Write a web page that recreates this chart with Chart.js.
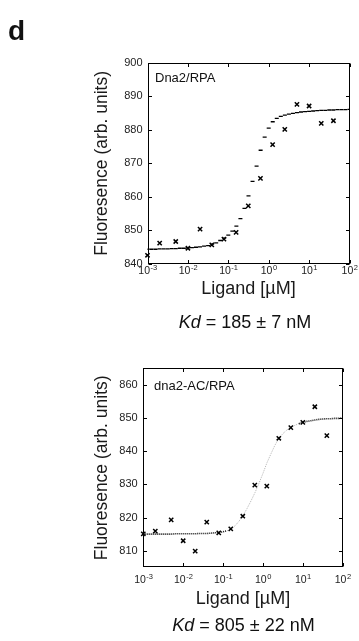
<!DOCTYPE html>
<html>
<head>
<meta charset="utf-8">
<script src="https://cdn.jsdelivr.net/npm/chart.js@4.4.1/dist/chart.umd.min.js"></script>
<style>
  html, body { margin: 0; padding: 0; background: #fff; }
  body { width: 359px; height: 641px; position: relative; overflow: hidden; font-family: "Liberation Sans", Arial, sans-serif; }
  canvas { position: absolute; left: 0; }
  #c1 { top: 0; }
  #c2 { top: 340px; }
  .txt { position: absolute; line-height: 1; white-space: nowrap; color: #111; }
  .panel { left: 8px; top: 17px; font-size: 28px; font-weight: bold; }
  .kd { font-size: 18px; transform: translateX(-50%); }
  .inset { font-size: 13px; }
</style>
</head>
<body>
<canvas id="c1" width="359" height="320"></canvas>
<canvas id="c2" width="359" height="301"></canvas>
<div class="txt panel">d</div>
<div class="txt inset" style="left:155px; top:70.5px">Dna2/RPA</div>
<div class="txt inset" style="left:154px; top:379px">dna2-AC/RPA</div>
<div class="txt kd" style="left:245px; top:312.8px"><i>Kd</i> = 185 ± 7 nM</div>
<div class="txt kd" style="left:243.5px; top:615.8px"><i>Kd</i> = 805 ± 22 nM</div>

<script>
// Ligand concentrations (µM), same dilution series for both panels
const concUM = [0.001, 0.002, 0.005, 0.01, 0.02, 0.039, 0.078, 0.156, 0.3125, 0.625, 1.25, 2.5, 5, 10, 20, 40];

// Measured fluorescence (x markers)
const fluorDna2 = [842.6, 846.2, 846.7, 844.7, 850.4, 845.7, 847.4, 849.4, 857.3, 865.5, 875.6, 880.1, 887.6, 887.1, 881.9, 882.7];
const fluorDna2AC = [815.1, 815.9, 819.3, 813.0, 809.9, 818.6, 815.4, 816.6, 820.4, 829.8, 829.5, 843.9, 847.1, 848.7, 853.4, 844.7];

// Fitted curves at these log10(µM) positions
const fitLog = [-3.0, -2.9, -2.8, -2.7, -2.6, -2.5, -2.4, -2.3, -2.2, -2.1,
                -2.0, -1.9, -1.8, -1.7, -1.6, -1.5, -1.4, -1.3, -1.2, -1.1,
                -1.0, -0.9, -0.8, -0.7, -0.6, -0.5, -0.4, -0.3, -0.2, -0.1,
                 0.0,  0.1,  0.2,  0.3,  0.4,  0.5,  0.6,  0.7,  0.8,  0.9,
                 1.0,  1.1,  1.2,  1.3,  1.4,  1.5,  1.6,  1.7,  1.8,  1.9, 2.0];
const fitDna2 = [844.4, 844.4, 844.4, 844.5, 844.5, 844.5, 844.6, 844.6, 844.7, 844.7,
                 844.8, 844.9, 845.0, 845.1, 845.3, 845.5, 845.9, 846.3, 847.0, 847.7,
                 848.6, 849.8, 851.3, 853.5, 856.6, 860.3, 864.6, 869.2, 873.9, 877.8,
                 880.5, 882.4, 883.4, 884.0, 884.4, 884.7, 884.9, 885.1, 885.3, 885.4,
                 885.5, 885.6, 885.7, 885.8, 885.8, 885.9, 885.9, 886.0, 886.0, 886.0, 886.1];
const fitDna2AC = [815.0, 815.0, 815.0, 815.0, 815.0, 815.0, 815.0, 815.0, 815.1, 815.1,
                   815.1, 815.1, 815.1, 815.1, 815.2, 815.2, 815.2, 815.3, 815.4, 815.5,
                   815.7, 816.0, 816.6, 817.5, 818.9, 820.6, 822.7, 825.0, 827.5, 830.3,
                   833.3, 836.5, 839.2, 841.8, 843.9, 845.3, 846.4, 847.2, 847.8, 848.3,
                   848.7, 849.0, 849.2, 849.4, 849.6, 849.7, 849.8, 849.8, 849.9, 849.9, 850.0];

// Axis ticks
const xTickValues = [0.001, 0.01, 0.1, 1, 10, 100];
const xTickExponents = ['-3', '-2', '-1', '0', '1', '2'];
const yTicksDna2 = [840, 850, 860, 870, 880, 890, 900];
const yTicksDna2AC = [810, 820, 830, 840, 850, 860];

Chart.defaults.font.family = '"Liberation Sans", Arial, sans-serif';
Chart.defaults.color = '#222';

const TICK = 3.5;

// plot frame, inward ticks on all four sides, 10^n labels under the x axis
const frameAndTicks = {
    id: 'frameAndTicks',
    afterDraw(chart, args, opts) {
        const { ctx, chartArea: a, scales: { x, y } } = chart;
        const L = Math.round(a.left) + 0.5, R = Math.round(a.right) - 0.5;
        const T = Math.round(a.top) + 0.5, B = Math.round(a.bottom) - 0.5;
        ctx.save();
        ctx.strokeStyle = '#000';
        ctx.lineWidth = 1;
        ctx.beginPath();
        xTickValues.forEach(v => {
            const px = Math.round(x.getPixelForValue(v)) + 0.5;
            ctx.moveTo(px, B); ctx.lineTo(px, B - TICK);
            ctx.moveTo(px, T); ctx.lineTo(px, T + TICK);
        });
        y.ticks.forEach(t => {
            const py = Math.round(y.getPixelForValue(t.value)) + 0.5;
            ctx.moveTo(L, py); ctx.lineTo(L + TICK, py);
            ctx.moveTo(R, py); ctx.lineTo(R - TICK, py);
        });
        ctx.stroke();
        ctx.strokeRect(L, T, R - L, B - T);

        // decade labels with superscript exponent
        ctx.fillStyle = '#222';
        ctx.textBaseline = 'alphabetic';
        ctx.textAlign = 'left';
        const baseFont = '10.5px "Liberation Sans", Arial, sans-serif';
        const expFont = '7.5px "Liberation Sans", Arial, sans-serif';
        xTickValues.forEach((v, i) => {
            const px = x.getPixelForValue(v);
            ctx.font = baseFont;
            const wBase = ctx.measureText('10').width;
            ctx.font = expFont;
            const wExp = ctx.measureText(xTickExponents[i]).width;
            const x0 = px - (wBase + wExp) / 2;
            ctx.font = baseFont;
            ctx.fillText('10', x0, a.bottom + opts.baseOffset);
            ctx.font = expFont;
            ctx.fillText(xTickExponents[i], x0 + wBase + 0.5, a.bottom + opts.expOffset);
        });
        ctx.restore();
    }
};

function makeChart(canvasId, fluor, fit, yTicks, g) {
    const markers = concUM.map((c, i) => ({ x: c, y: fluor[i] }));
    const curve = fitLog.map((l, i) => ({ x: Math.pow(10, l), y: fit[i] }));

    const curveDataset = g.dashCurve
        ? {
            type: 'scatter',
            data: curve,
            pointStyle: 'line',
            pointRadius: 2,
            borderWidth: 1.3,
            borderColor: '#000',
            showLine: false
        }
        : {
            type: 'line',
            data: curve,
            pointRadius: 0,
            borderWidth: 1.6,
            borderDash: [1, 1],
            tension: 0,
            fill: false,
            segment: {
                // dark dotted on the plateaus, pale grey where it climbs
                borderColor: ctx => Math.abs(ctx.p1.y - ctx.p0.y) > 1.5 ? '#b5b5b5' : '#111',
                borderWidth: ctx => Math.abs(ctx.p1.y - ctx.p0.y) > 1.5 ? 1 : 1.6
            }
        };

    return new Chart(document.getElementById(canvasId), {
        type: 'scatter',
        data: {
            datasets: [
                {
                    data: markers,
                    clip: false,
                    pointStyle: 'crossRot',
                    pointRadius: 3,
                    borderWidth: 1.5,
                    borderColor: '#000',
                    backgroundColor: '#000'
                },
                curveDataset
            ]
        },
        options: {
            responsive: false,
            animation: false,
            events: [],
            layout: { padding: g.padding },
            plugins: {
                legend: { display: false },
                tooltip: { enabled: false },
                frameAndTicks: { baseOffset: g.baseOffset, expOffset: g.expOffset }
            },
            scales: {
                x: {
                    type: 'logarithmic',
                    min: 0.001,
                    max: 100,
                    grid: { display: false, drawTicks: false },
                    border: { display: false },
                    ticks: { display: false },
                    title: {
                        display: true,
                        text: 'Ligand [µM]',
                        color: '#1a1a1a',
                        font: { size: 18 },
                        padding: { top: 0, bottom: 0 }
                    },
                    afterFit: s => { s.height = g.xHeight; }
                },
                y: {
                    min: g.yMin,
                    max: g.yMax,
                    grid: { display: false, drawTicks: false },
                    border: { display: false },
                    afterBuildTicks: s => { s.ticks = yTicks.map(v => ({ value: v })); },
                    ticks: { font: { size: 11 }, color: '#222', padding: g.yLabelPad },
                    title: {
                        display: true,
                        text: 'Fluoresence (arb. units)',
                        color: '#1a1a1a',
                        font: { size: 17.5 },
                        padding: { top: 91.2, bottom: 0 }
                    },
                    afterFit: s => { s.width = g.yWidth; }
                }
            }
        },
        plugins: [frameAndTicks]
    });
}

document.addEventListener('DOMContentLoaded', () => {
    // Dna2/RPA panel
    makeChart('c1', fluorDna2, fitDna2, yTicksDna2, {
        yMin: 840, yMax: 900,
        padding: { left: 0, right: 9.5, top: 62.7, bottom: 20.5 },
        yWidth: 147.5, xHeight: 35.5, yLabelPad: 5,
        baseOffset: 9.5, expOffset: 5.5,
        dashCurve: true
    });
    // dna2-AC/RPA panel
    makeChart('c2', fluorDna2AC, fitDna2AC, yTicksDna2AC, {
        yMin: 805, yMax: 865,
        padding: { left: 0, right: 16.3, top: 28.3, bottom: 31.5 },
        yWidth: 143.3, xHeight: 42.2, yLabelPad: 5.6,
        baseOffset: 16, expOffset: 11.5,
        dashCurve: false
    });
});
</script>
</body>
</html>
